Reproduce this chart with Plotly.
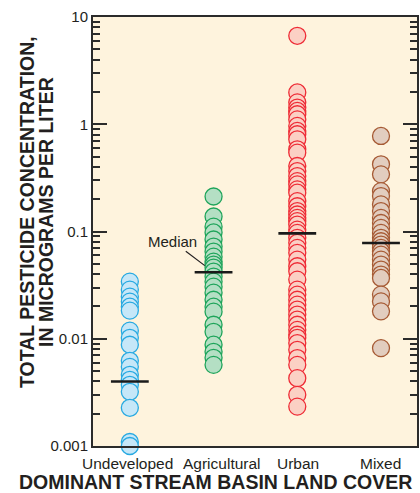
import math
import plotly.graph_objects as go

# Land-cover groups on the x axis
categories = ["Undeveloped", "Agricultural", "Urban", "Mixed"]

# Total pesticide concentration per stream sample, micrograms per liter
undeveloped = [0.0341, 0.0287, 0.0247, 0.0222, 0.0199, 0.0183, 0.0119, 0.0102,
               0.00879, 0.00623, 0.00547, 0.00461, 0.00414, 0.00372, 0.00320,
               0.00227, 0.00109, 0.00100]
agricultural = [0.212, 0.138, 0.111, 0.098, 0.0842, 0.0724, 0.0650, 0.0583,
                0.0524, 0.0492, 0.0461, 0.0423, 0.0380, 0.0341, 0.0306, 0.0269,
                0.0231, 0.0199, 0.0179, 0.0135, 0.0116, 0.0088, 0.00756,
                0.00664, 0.00571]
urban = [6.68, 1.98, 1.60, 1.43, 1.33, 1.24, 1.11, 0.965, 0.866, 0.807, 0.724,
         0.584, 0.544, 0.408, 0.366, 0.329, 0.295, 0.275, 0.247, 0.230, 0.192,
         0.172, 0.155, 0.144, 0.134, 0.125, 0.116, 0.104, 0.097, 0.0873,
         0.0784, 0.0704, 0.0633, 0.0547, 0.0474, 0.0426, 0.0356, 0.0287,
         0.0258, 0.0231, 0.0208, 0.0187, 0.0168, 0.0151, 0.0135, 0.0121,
         0.0109, 0.0102, 0.00912, 0.00789, 0.00661, 0.00571, 0.00429,
         0.00300, 0.00233]
mixed = [0.778, 0.423, 0.341, 0.238, 0.214, 0.179, 0.155, 0.134, 0.120, 0.108,
         0.097, 0.0873, 0.0811, 0.0756, 0.0704, 0.0655, 0.0609, 0.0547, 0.0492,
         0.0442, 0.0397, 0.0369, 0.0258, 0.0223, 0.0180, 0.00818]

# Median concentration of each group
medians = [0.0040, 0.0417, 0.096, 0.078]

# Axis ticks
major_ticks = [0.001, 0.01, 0.1, 1, 10]
major_text = ["0.001", "0.01", "0.1", "1", "10"]
minor_ticks = [m * d for d in [0.001, 0.01, 0.1, 1] for m in range(2, 10)]

groups = [undeveloped, agricultural, urban, mixed]
edge_colors = ["#27a9e1", "#1ea45a", "#ee2b35", "#a65a34"]
fill_colors = ["#c6e7f8", "#b4dfc4", "#fbd0c4", "#e2cdbf"]

AXIS = "#2b2b2b"
INK = "#231f20"
FONT = "Liberation Sans, Arial, sans-serif"

# Plot frame in pixels (left, right, top, bottom)
L, R, T, B = 93, 417, 17, 446
PW, PH = R - L, B - T

# Horizontal centres (px) of the category captions under the frame
caption_px = [127, 222, 298, 380]

fig = go.Figure()

for name, vals, edge, fill in zip(categories, groups, edge_colors, fill_colors):
    fig.add_trace(go.Scatter(
        x=[name] * len(vals), y=vals, mode="markers",
        marker=dict(size=17, color=fill, line=dict(color=edge, width=1.3)),
        cliponaxis=False, showlegend=False, hoverinfo="y",
    ))

# Median bars
fig.add_trace(go.Scatter(
    x=categories, y=medians, mode="markers",
    marker=dict(symbol="line-ew", size=27,
                line=dict(color="#1a1a1a", width=2.6)),
    cliponaxis=False, showlegend=False, hoverinfo="y",
))

fig.update_layout(
    width=420, height=493,
    margin=dict(l=L, r=420 - R, t=T, b=493 - B, autoexpand=False),
    paper_bgcolor="white",
    plot_bgcolor="#fef3dd",
    font=dict(family=FONT, size=15, color=INK),
    xaxis=dict(
        type="category", categoryorder="array", categoryarray=categories,
        range=[-0.44, 3.43], showgrid=False, zeroline=False,
        showline=True, linecolor=AXIS, linewidth=2, mirror=True,
        ticks="", showticklabels=False, automargin=False,
    ),
    yaxis=dict(
        type="log", range=[-3, 1], showgrid=False, zeroline=False,
        showline=True, linecolor=AXIS, linewidth=2, mirror="ticks",
        tickmode="array", tickvals=major_ticks, ticktext=major_text,
        ticks="inside", ticklen=14, tickwidth=2, tickcolor=AXIS,
        automargin=False, tickfont=dict(size=15),
        minor=dict(tickmode="array", tickvals=minor_ticks, ticks="inside",
                   ticklen=7, tickwidth=1.5, tickcolor=AXIS, showgrid=False),
    ),
)

# Category captions
for name, px in zip(categories, caption_px):
    fig.add_annotation(
        text=name, xref="paper", yref="paper",
        x=(px - L) / PW, y=-(464 - B) / PH, xanchor="center", yanchor="middle",
        showarrow=False, font=dict(size=15.5, color=INK),
    )

# Axis titles
fig.add_annotation(
    text="<b>DOMINANT STREAM BASIN LAND COVER</b>", xref="paper", yref="paper",
    x=(215 - L) / PW, y=-(482 - B) / PH, xanchor="center", yanchor="middle",
    showarrow=False, borderpad=0, font=dict(size=19.5, color=INK),
)
fig.add_annotation(
    text="<b>TOTAL PESTICIDE CONCENTRATION,</b>", xref="paper", yref="paper",
    x=-(L - 27) / PW, y=(B - 212) / PH, xanchor="center", yanchor="middle",
    textangle=-90, showarrow=False, font=dict(size=19.5, color=INK),
)
fig.add_annotation(
    text="<b>IN MICROGRAMS PER LITER</b>", xref="paper", yref="paper",
    x=-(L - 46) / PW, y=(B - 212) / PH, xanchor="center", yanchor="middle",
    textangle=-90, showarrow=False, font=dict(size=19.5, color=INK),
)

# Label pointing at the agricultural median
fig.add_annotation(
    x=categories[1], y=math.log10(medians[1]), xref="x", yref="y",
    ax=-41, ay=-31,
    text="Median", showarrow=True, arrowhead=0, arrowwidth=1.2,
    arrowcolor=INK, standoff=11,
    font=dict(size=15, color=INK),
)

fig.write_html("out.html")
